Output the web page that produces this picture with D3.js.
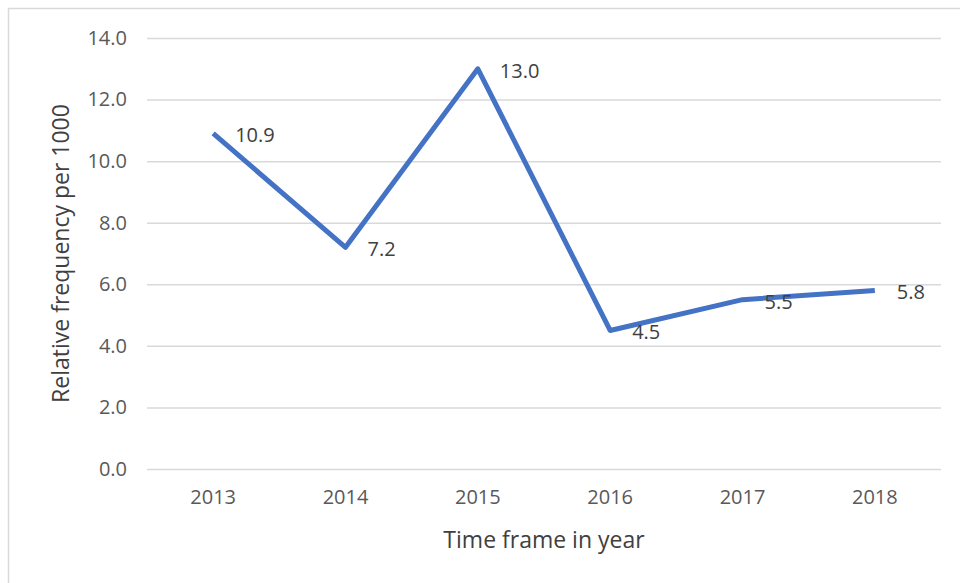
<!DOCTYPE html>
<html>
<head>
<meta charset="utf-8">
<script src="https://cdn.jsdelivr.net/npm/d3@7"></script>
<style>
  body { margin: 0; background: #fff; }
  text { font-family: "Open Sans", sans-serif; }
</style>
</head>
<body>
<div id="chart"></div>
<script>
// donnees
var annees = ["2013", "2014", "2015", "2016", "2017", "2018"];
var frequences = [10.9, 7.2, 13.0, 4.5, 5.5, 5.8];
var ticksY = [0, 2, 4, 6, 8, 10, 12, 14];

var largeur = 960, hauteur = 583;
var marge = { haut: 38, droite: 19, bas: 114, gauche: 147 };

var svg = d3.select("#chart")
  .append("svg")
  .attr("width", largeur)
  .attr("height", hauteur);

// cadre de la zone du graphique
svg.append("rect")
  .attr("x", 8.5).attr("y", 8.5)
  .attr("width", 1000).attr("height", 700)
  .attr("fill", "none")
  .attr("stroke", "#d9d9d9")
  .attr("stroke-width", 1.5);

var x = d3.scaleBand()
  .domain(annees)
  .range([marge.gauche, largeur - marge.droite]);

var y = d3.scaleLinear()
  .domain([0, 14])
  .range([hauteur - marge.bas, marge.haut]);

// lignes de grille + labels Y
var axeY = svg.append("g")
  .attr("transform", "translate(" + marge.gauche + ",0)")
  .call(d3.axisLeft(y)
    .tickValues(ticksY)
    .tickSize(-(largeur - marge.droite - marge.gauche))
    .tickPadding(20)
    .tickFormat(d3.format(".1f")));
axeY.select(".domain").remove();
axeY.selectAll("line").attr("stroke", "#d9d9d9").attr("stroke-width", 1.5);
axeY.selectAll("text")
  .attr("fill", "#595959")
  .attr("font-size", "20px");

// labels X
var axeX = svg.append("g")
  .attr("transform", "translate(0," + (hauteur - marge.bas) + ")")
  .call(d3.axisBottom(x).tickSize(0).tickPadding(21));
axeX.select(".domain").remove();
axeX.selectAll("text")
  .attr("fill", "#595959")
  .attr("font-size", "20px");

// la courbe
var ligne = d3.line()
  .x(function(d, i) { return x(annees[i]) + x.bandwidth() / 2; })
  .y(function(d) { return y(d); });

svg.append("path")
  .datum(frequences)
  .attr("d", ligne)
  .attr("fill", "none")
  .attr("stroke", "#4472c4")
  .attr("stroke-width", 5)
  .attr("stroke-linejoin", "round");

// etiquettes de valeurs
svg.selectAll(".valeur")
  .data(frequences)
  .enter()
  .append("text")
  .attr("class", "valeur")
  .attr("x", function(d, i) { return x(annees[i]) + x.bandwidth() / 2 + 22; })
  .attr("y", function(d) { return y(d) + 2; })
  .attr("dy", "0.35em")
  .attr("fill", "#404040")
  .attr("font-size", "20px")
  .text(function(d) { return d.toFixed(1); });

// titres des axes
svg.append("text")
  .attr("transform", "translate(69," + ((marge.haut + hauteur - marge.bas) / 2) + ") rotate(-90)")
  .attr("text-anchor", "middle")
  .attr("fill", "#404040")
  .attr("font-size", "23px")
  .text("Relative frequency per 1000");

svg.append("text")
  .attr("x", (marge.gauche + largeur - marge.droite) / 2)
  .attr("y", 548)
  .attr("text-anchor", "middle")
  .attr("fill", "#404040")
  .attr("font-size", "23px")
  .text("Time frame in year");
</script>
</body>
</html>
